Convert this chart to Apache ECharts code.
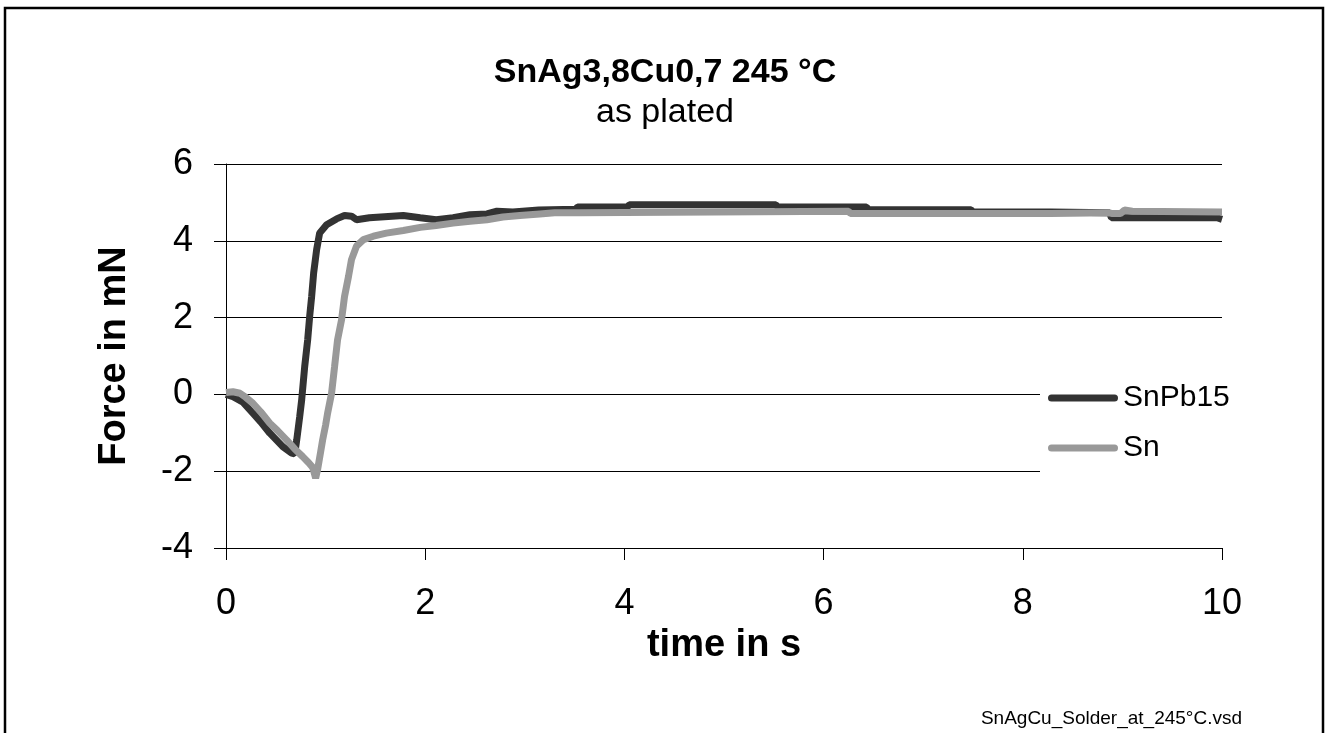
<!DOCTYPE html>
<html>
<head>
<meta charset="utf-8">
<script src="https://cdn.jsdelivr.net/npm/echarts@6/dist/echarts.min.js"></script>
<style>
html,body{margin:0;padding:0;background:#fff;}
#chart{width:1330px;height:733px;}
</style>
</head>
<body>
<div id="chart"></div>
<script>
// ---- data ----
const titleText = 'SnAg3,8Cu0,7 245 °C';
const subtitleText = 'as plated';
const xAxisName = 'time in s';
const yAxisName = 'Force in mN';
const footnote = 'SnAgCu_Solder_at_245°C.vsd';
const seriesNames = ['SnPb15', 'Sn'];
const xTicks = [0, 2, 4, 6, 8, 10];
const yTicks = [-4, -2, 0, 2, 4, 6];

// [time s, force mN]
const snPb15 = [
  [0,0],[0.07,-0.06],[0.17,-0.2],[0.27,-0.49],[0.35,-0.72],[0.44,-1.01],[0.57,-1.36],
  [0.66,-1.53],[0.69,-1.55],[0.71,-1.19],[0.74,-0.58],[0.76,-0.14],[0.79,0.72],
  [0.82,1.42],[0.84,2.03],[0.86,2.55],[0.88,3.16],[0.91,3.77],[0.94,4.2],[1.01,4.42],
  [1.11,4.57],[1.19,4.66],[1.26,4.64],[1.31,4.55],[1.44,4.6],[1.78,4.66],[1.95,4.6],
  [2.11,4.55],[2.28,4.6],[2.45,4.68],[2.62,4.7],[2.72,4.77],[2.88,4.75],[3.14,4.8],
  [3.51,4.82],[3.53,4.88],[4.03,4.88],[4.05,4.94],[5.52,4.94],[5.54,4.88],[6.43,4.88],
  [6.45,4.81],[7.48,4.81],[7.5,4.75],[8.28,4.75],[8.87,4.73],[8.89,4.6],[9.95,4.6],[10,4.56]
];
const sn = [
  [0,0.05],[0.07,0.07],[0.14,0.03],[0.2,-0.08],[0.27,-0.23],[0.35,-0.46],[0.44,-0.75],
  [0.52,-0.95],[0.61,-1.19],[0.69,-1.42],[0.77,-1.62],[0.83,-1.78],[0.87,-1.9],[0.9,-2.18],
  [0.92,-1.95],[0.95,-1.5],[0.97,-1.19],[1.0,-0.8],[1.02,-0.49],[1.06,0.03],[1.09,0.72],
  [1.12,1.42],[1.16,1.94],[1.19,2.55],[1.23,3.07],[1.26,3.51],[1.31,3.86],[1.38,4.03],
  [1.48,4.12],[1.61,4.2],[1.78,4.27],[1.95,4.35],[2.11,4.4],[2.28,4.46],[2.45,4.51],
  [2.62,4.55],[2.78,4.62],[2.95,4.66],[3.15,4.7],[3.3,4.73],[3.55,4.73],[3.57,4.77],
  [6.25,4.77],[6.27,4.71],[8.28,4.71],[8.3,4.73],[8.87,4.73],[8.9,4.71],[8.98,4.71],
  [9.02,4.8],[9.1,4.77],[10,4.75]
];

const FONT = '"Liberation Sans", Arial, sans-serif';
const chart = echarts.init(document.getElementById('chart'), null, {renderer: 'canvas'});

chart.setOption({
  animation: false,
  backgroundColor: '#fff',
  title: [
    {text: titleText, left: 'center', top: 56, padding: 0,
     textStyle: {fontFamily: FONT, fontSize: 34, fontWeight: 'bold', color: '#000', lineHeight: 34}},
    {text: subtitleText, left: 'center', top: 96, padding: 0,
     textStyle: {fontFamily: FONT, fontSize: 34, fontWeight: 'normal', color: '#000', lineHeight: 34}}
  ],
  grid: {left: 226, top: 164, right: 108, bottom: 185, containLabel: false},
  legend: {
    orient: 'vertical', left: 1040, top: 373,
    padding: [10, 10, 10, 8], backgroundColor: '#fff',
    itemWidth: 70, itemHeight: 7, itemGap: 20,
    icon: 'path://M3.5,0H66.5A3.5,3.5,0,0,1,66.5,7H3.5A3.5,3.5,0,0,1,3.5,0Z',
    data: seriesNames,
    textStyle: {fontFamily: FONT, fontSize: 30, color: '#000', lineHeight: 30}
  },
  xAxis: {
    type: 'value', min: xTicks[0], max: xTicks[xTicks.length - 1], interval: 2,
    name: xAxisName, nameLocation: 'middle', nameGap: 70,
    nameTextStyle: {fontFamily: FONT, fontSize: 38, fontWeight: 'bold', color: '#000'},
    axisLine: {onZero: false, lineStyle: {color: '#000', width: 1}},
    axisTick: {show: true, length: 12, inside: false, lineStyle: {color: '#000'}},
    axisLabel: {fontFamily: FONT, fontSize: 36, color: '#000', margin: 38},
    splitLine: {show: false}
  },
  yAxis: {
    type: 'value', min: yTicks[0], max: yTicks[yTicks.length - 1], interval: 2,
    name: yAxisName, nameLocation: 'middle', nameGap: 92, nameRotate: 90,
    nameTextStyle: {fontFamily: FONT, fontSize: 38, fontWeight: 'bold', color: '#000'},
    axisLine: {show: true, lineStyle: {color: '#000', width: 1}},
    axisTick: {show: true, length: 12, inside: false, lineStyle: {color: '#000'}},
    axisLabel: {fontFamily: FONT, fontSize: 36, color: '#000', margin: 33},
    splitLine: {show: true, lineStyle: {color: '#000', width: 1}}
  },
  series: [
    {name: seriesNames[0], type: 'line', data: snPb15, showSymbol: false, symbol: 'none',
     color: '#333333', lineStyle: {color: '#333333', width: 7}, z: 2},
    {name: seriesNames[1], type: 'line', data: sn, showSymbol: false, symbol: 'none',
     color: '#999999', lineStyle: {color: '#999999', width: 7}, z: 3}
  ],
  graphic: [
    {type: 'rect', shape: {x: 5, y: 8, width: 1318, height: 800},
     style: {fill: 'none', stroke: '#000', lineWidth: 2.5}, silent: true, z: 100},
    {type: 'text', x: 1242, y: 728, silent: true,
     style: {text: footnote, font: '19px ' + FONT, fill: '#000', textAlign: 'right', textVerticalAlign: 'bottom'}}
  ]
});
</script>
</body>
</html>
